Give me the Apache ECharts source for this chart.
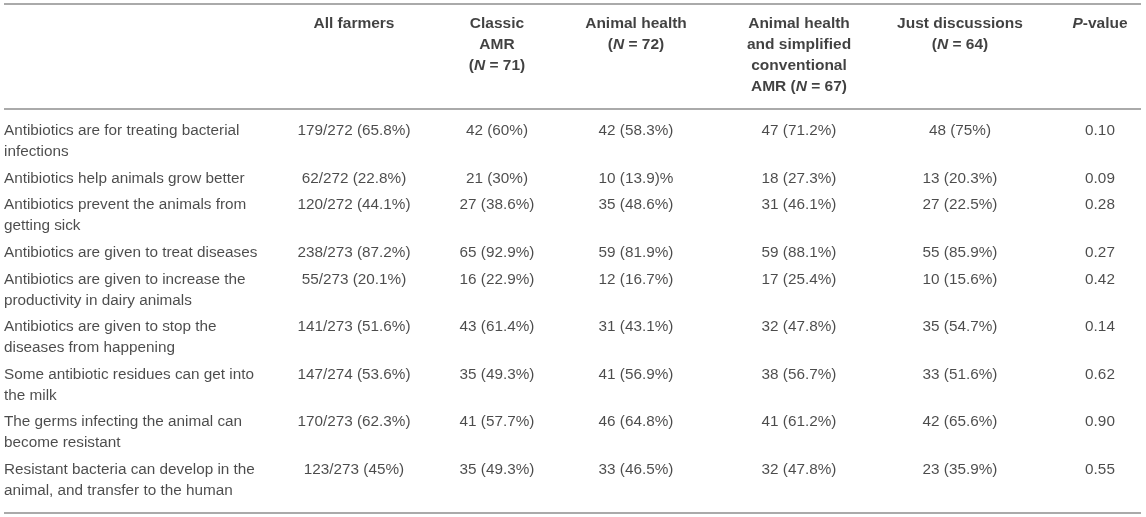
<!DOCTYPE html>
<html>
<head>
<meta charset="utf-8">
<script src="https://cdn.jsdelivr.net/npm/echarts@6/dist/echarts.min.js"></script>
<style>
  html, body { margin: 0; padding: 0; background: #fff; }
  #main { width: 1146px; height: 517px; }
</style>
</head>
<body>
<div id="main"></div>
<script>
// table content
var headers = [
  'All farmers',
  'Classic\nAMR\n({i|N} = 71)',
  'Animal health\n({i|N} = 72)',
  'Animal health\nand simplified\nconventional\nAMR ({i|N} = 67)',
  'Just discussions\n({i|N} = 64)',
  '{i|P}-value'
];
var statements = [
  'Antibiotics are for treating bacterial\ninfections',
  'Antibiotics help animals grow better',
  'Antibiotics prevent the animals from\ngetting sick',
  'Antibiotics are given to treat diseases',
  'Antibiotics are given to increase the\nproductivity in dairy animals',
  'Antibiotics are given to stop the\ndiseases from happening',
  'Some antibiotic residues can get into\nthe milk',
  'The germs infecting the animal can\nbecome resistant',
  'Resistant bacteria can develop in the\nanimal, and transfer to the human'
];
var allFarmers = ['179/272 (65.8%)', '62/272 (22.8%)', '120/272 (44.1%)', '238/273 (87.2%)', '55/273 (20.1%)',
  '141/273 (51.6%)', '147/274 (53.6%)', '170/273 (62.3%)', '123/273 (45%)'];
var classicAMR = ['42 (60%)', '21 (30%)', '27 (38.6%)', '65 (92.9%)', '16 (22.9%)',
  '43 (61.4%)', '35 (49.3%)', '41 (57.7%)', '35 (49.3%)'];
var animalHealth = ['42 (58.3%)', '10 (13.9)%', '35 (48.6%)', '59 (81.9%)', '12 (16.7%)',
  '31 (43.1%)', '41 (56.9%)', '46 (64.8%)', '33 (46.5%)'];
var animalHealthSimplified = ['47 (71.2%)', '18 (27.3%)', '31 (46.1%)', '59 (88.1%)', '17 (25.4%)',
  '32 (47.8%)', '38 (56.7%)', '41 (61.2%)', '32 (47.8%)'];
var justDiscussions = ['48 (75%)', '13 (20.3%)', '27 (22.5%)', '55 (85.9%)', '10 (15.6%)',
  '35 (54.7%)', '33 (51.6%)', '42 (65.6%)', '23 (35.9%)'];
var pValues = ['0.10', '0.09', '0.28', '0.27', '0.42', '0.14', '0.62', '0.90', '0.55'];

var columns = [allFarmers, classicAMR, animalHealth, animalHealthSimplified, justDiscussions, pValues];

// layout (pixels in the 1146x517 frame)
var W = 1146, H = 517;
var labelX = 4;
var colX = [354, 497, 636, 799, 960, 1100];
var lineH = 21;
var rowPad = 5.6;
var headTop = 13.5;
var bodyTop = 120.5;
var rules = [4, 109, 513];
var ruleX = [4, 1141];

var FONT = '"Liberation Sans", Arial, Helvetica, sans-serif';
var bodySize = 15.3;
var headSize = 15.5;

var chart = echarts.init(document.getElementById('main'), null, { renderer: 'canvas' });

// row tops from the number of text lines in each statement
var rowTops = [];
var y = bodyTop;
statements.forEach(function (s) {
  rowTops.push(y);
  y += s.split('\n').length * lineH + rowPad;
});

var headData = headers.map(function (h, i) {
  return { value: [colX[i], headTop], name: h };
});
var leftData = statements.map(function (s, i) {
  return { value: [labelX, rowTops[i]], name: s };
});
var cellData = [];
columns.forEach(function (col, c) {
  col.forEach(function (v, r) {
    cellData.push({ value: [colX[c], rowTops[r]], name: v });
  });
});

chart.setOption({
  animation: false,
  grid: { left: 0, right: 0, top: 0, bottom: 0 },
  xAxis: { type: 'value', min: 0, max: W, show: false },
  yAxis: { type: 'value', min: 0, max: H, inverse: true, show: false },
  series: [
    {
      name: 'header',
      type: 'scatter',
      symbolSize: 0,
      silent: true,
      data: headData,
      label: {
        show: true,
        position: [0, 0],
        align: 'center',
        verticalAlign: 'top',
        formatter: function (p) { return p.name; },
        fontFamily: FONT,
        fontSize: headSize,
        fontWeight: 'bold',
        lineHeight: lineH,
        color: '#111',
        rich: {
          i: { fontFamily: FONT, fontSize: headSize, fontWeight: 'bold', fontStyle: 'italic', lineHeight: lineH, color: '#111' }
        }
      },
      markLine: {
        silent: true,
        symbol: 'none',
        label: { show: false },
        lineStyle: { color: '#aaaaaa', width: 2, type: 'solid' },
        data: rules.map(function (ry) {
          return [{ coord: [ruleX[0], ry] }, { coord: [ruleX[1], ry] }];
        })
      }
    },
    {
      name: 'statements',
      type: 'scatter',
      symbolSize: 0,
      silent: true,
      data: leftData,
      label: {
        show: true,
        position: [0, 0],
        align: 'left',
        verticalAlign: 'top',
        formatter: function (p) { return p.name; },
        fontFamily: FONT,
        fontSize: bodySize,
        lineHeight: lineH,
        color: '#1e1e1e'
      }
    },
    {
      name: 'cells',
      type: 'scatter',
      symbolSize: 0,
      silent: true,
      data: cellData,
      label: {
        show: true,
        position: [0, 0],
        align: 'center',
        verticalAlign: 'top',
        formatter: function (p) { return p.name; },
        fontFamily: FONT,
        fontSize: bodySize,
        lineHeight: lineH,
        color: '#1e1e1e'
      }
    }
  ]
});
</script>
</body>
</html>
